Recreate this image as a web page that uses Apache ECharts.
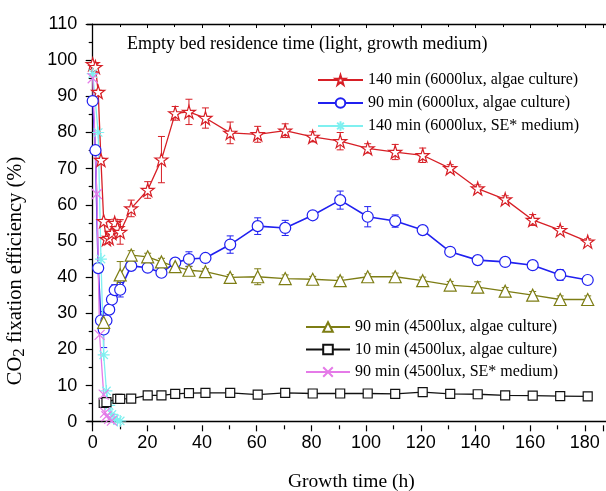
<!DOCTYPE html>
<html>
<head>
<meta charset="utf-8">
<script src="https://cdn.jsdelivr.net/npm/echarts@6/dist/echarts.min.js"></script>
<style>
html, body { margin: 0; padding: 0; background: #fff; }
#main { width: 606px; height: 491px; }
</style>
</head>
<body>
<div id="main"></div>
<script>
// 140 min (6000lux, algae culture)
var redX   = [0, 1, 2, 3, 4, 5, 6, 7, 8, 9, 10, 14, 20, 25, 30, 35, 41, 50, 60, 70, 80, 90, 100, 110, 120, 130, 140, 150, 160, 170, 180];
var redY   = [98.9, 98.1, 91.2, 72.4, 55.5, 50.5, 50.8, 52.2, 55, 53.5, 52.5, 59, 64.1, 72.5, 85.3, 85.7, 84, 79.9, 79.5, 80.5, 78.8, 77.6, 75.6, 74.6, 73.7, 70.1, 64.5, 61.5, 55.8, 53, 49.8];
var redErr = [0.5, 0.5, 0.5, 0.5, 0.5, 0.5, 0.5, 1, 1, 1, 3.4, 2.3, 2.3, 6.4, 1.9, 3.5, 2.8, 3, 2.2, 1.9, 1.4, 2.4, 1.3, 2.1, 2, 1, 1, 1, 1.5, 1, 0.8];

// 90 min (6000lux, algae culture)
var blueX   = [0, 1, 2, 3, 4, 5, 6, 7, 8, 10, 14, 20, 25, 30, 35, 41, 50, 60, 70, 80, 90, 100, 110, 120, 130, 140, 150, 160, 170, 180];
var blueY   = [88.7, 75.1, 42.5, 28, 25.5, 28, 31, 33.8, 36.4, 36.5, 43.1, 42.6, 41.2, 44, 45, 45.3, 49, 54.1, 53.6, 57.1, 61.3, 56.7, 55.5, 53, 47, 44.7, 44.2, 43.3, 40.6, 39.2];
var blueErr = [0.5, 0.5, 0.5, 1, 5, 1, 1, 1, 1.5, 2, 1, 1, 1, 1, 2, 1, 2.4, 2.3, 2.1, 1, 2.5, 2.8, 1.7, 0.8, 0.8, 0.8, 0.5, 0.8, 1.5, 0.8];

// 140 min (6000lux, SE* medium)
var cyanX = [0, 2, 3, 4, 5, 6, 7, 8, 9, 10];
var cyanY = [96.3, 80, 45, 18.5, 8.5, 4.5, 2, 0.8, 0.3, 0.2];

// 90 min (4500lux, algae culture)
var oliveX   = [4, 10, 14, 20, 25, 30, 35, 41, 50, 60, 70, 80, 90, 100, 110, 120, 130, 140, 150, 160, 170, 180];
var oliveY   = [27.5, 40.6, 46.1, 45.6, 44.2, 42.9, 41.9, 41.5, 39.9, 40.1, 39.6, 39.4, 39, 40.1, 40.1, 39, 37.8, 37.2, 36.1, 35, 33.8, 33.8];
var oliveErr = [1.5, 3.7, 1.2, 1, 1, 1, 1, 0.8, 0.8, 2.2, 1, 0.8, 1, 0.8, 1, 1, 1, 1.5, 1, 1, 1, 1];

// 10 min (4500lux, algae culture)
var blackX   = [4, 5, 9, 10, 14, 20, 25, 30, 35, 41, 50, 60, 70, 80, 90, 100, 110, 120, 130, 140, 150, 160, 170, 180];
var blackY   = [5.2, 5.4, 6.3, 6.3, 6.4, 7.3, 7.3, 7.7, 7.9, 8, 8, 7.5, 8, 7.8, 7.8, 7.8, 7.7, 8.2, 7.7, 7.6, 7.3, 7.2, 7.1, 7];
var blackErr = [0.6, 0.6, 0.6, 0.6, 0.6, 0.6, 0.6, 0.6, 0.6, 0.6, 0.6, 0.6, 0.6, 0.6, 0.6, 0.6, 0.6, 0.6, 0.6, 0.6, 0.6, 0.6, 0.6, 0.6];

// 90 min (4500lux, SE* medium)
var pinkX = [0, 1.5, 2.5, 4, 4.5, 5, 6, 7];
var pinkY = [95, 63, 24, 7.5, 2.5, 1.5, 0.8, 0.3];

var seriesNames = [
  '140 min (6000lux, algae culture)',
  '90 min (6000lux, algae culture)',
  '140 min (6000lux, SE* medium)',
  '90 min (4500lux, algae culture)',
  '10 min (4500lux, algae culture)',
  '90 min (4500lux, SE* medium)'
];

// pixel layout of the plot
var X0PX = 92.7, XS = 2.75;   // x = 0 position, px per hour
var Y0PX = 421.7, YS = 3.615; // y = 0 position, px per %
var W = 606, H = 491;
var XMIN = -2, YMIN = -1, YMAX = 110;
var XMAX = XMIN + (W - (X0PX + XMIN * XS)) / XS;

var STAR = 'path://M50,2 L61,36 L97,36 L68,57 L79,92 L50,71 L21,92 L32,57 L3,36 L39,36 Z';
var ASTER = 'path://M0,50 L100,50 M50,0 L50,100 M15,15 L85,85 M85,15 L15,85';
var CROSS = 'path://M0,0 L100,100 M100,0 L0,100';

function zip(xs, ys) {
  var out = [];
  for (var i = 0; i < xs.length; i++) out.push([xs[i], ys[i]]);
  return out;
}

function lineSeries(name, xs, ys, color, symbol, size, lw) {
  return {
    name: name, type: 'line', xAxisIndex: 0, yAxisIndex: 0,
    data: zip(xs, ys), symbol: symbol, symbolSize: size,
    lineStyle: { color: color, width: lw || 1.3 },
    itemStyle: { color: '#fff', borderColor: color, borderWidth: 1.2 },
    z: 3, animation: false
  };
}

function errorSeries(xs, ys, errs, color) {
  var d = [];
  for (var i = 0; i < xs.length; i++) d.push([xs[i], ys[i], errs[i]]);
  return {
    type: 'custom', xAxisIndex: 0, yAxisIndex: 0, silent: true, z: 2,
    encode: { x: 0, y: 1 },
    renderItem: function (params, api) {
      var x = api.value(0), y = api.value(1), e = api.value(2);
      var t = api.coord([x, y + e]), b = api.coord([x, y - e]);
      var hw = 3.5, st = { stroke: color, lineWidth: 1 };
      return { type: 'group', children: [
        { type: 'line', shape: { x1: t[0], y1: t[1], x2: b[0], y2: b[1] }, style: st },
        { type: 'line', shape: { x1: t[0] - hw, y1: t[1], x2: t[0] + hw, y2: t[1] }, style: st },
        { type: 'line', shape: { x1: b[0] - hw, y1: b[1], x2: b[0] + hw, y2: b[1] }, style: st }
      ] };
    },
    data: d, animation: false
  };
}

var RED = '#d71f26', BLUE = '#2020f0', CYAN = '#7ff0f0', OLIVE = '#7d7d14', BLACK = '#111', PINK = '#e57ae8';

var chart = echarts.init(document.getElementById('main'));
var sans = 'Liberation Sans', serif = 'Liberation Serif';

var option = {
  animation: false,
  backgroundColor: '#fff',
  grid: [
    { left: X0PX + XMIN * XS, right: 0, top: Y0PX - YMAX * YS, bottom: H - (Y0PX - YMIN * YS) },
    { left: X0PX, right: 0, top: Y0PX - YMAX * YS, bottom: H - (Y0PX - YMIN * YS) },
    { left: X0PX + XMIN * XS, right: 0, top: Y0PX - YMAX * YS, bottom: H - Y0PX }
  ],
  xAxis: [
    { gridIndex: 0, type: 'value', min: XMIN, max: XMAX, position: 'bottom',
      axisLine: { lineStyle: { color: '#000', width: 1.3 } }, axisTick: { show: false },
      axisLabel: { show: false }, splitLine: { show: false } },
    { gridIndex: 0, type: 'value', min: XMIN, max: XMAX, position: 'top',
      axisLine: { lineStyle: { color: '#000', width: 1.3 } }, axisTick: { show: false },
      axisLabel: { show: false }, splitLine: { show: false } },
    { gridIndex: 1, type: 'value', min: 0, max: XMAX, interval: 20, position: 'bottom',
      axisLine: { show: false },
      axisTick: { show: true, length: 6, lineStyle: { color: '#000', width: 1.2 } },
      minorTick: { show: true, splitNumber: 2, length: 4, lineStyle: { color: '#000', width: 1.2 } },
      axisLabel: { fontFamily: sans, fontSize: 18, color: '#000', margin: 9,
        formatter: function (v) { return v <= 180 ? v : ''; } },
      splitLine: { show: false } },
    { gridIndex: 1, type: 'value', min: 0, max: XMAX, interval: 20, position: 'top',
      axisLine: { show: false },
      axisTick: { show: true, inside: true, length: 4, lineStyle: { color: '#000' } },
      minorTick: { show: true, splitNumber: 2, length: 3, lineStyle: { color: '#000' } },
      axisLabel: { show: false }, splitLine: { show: false } },
    { gridIndex: 2, type: 'value', min: XMIN, max: XMAX, show: false }
  ],
  yAxis: [
    { gridIndex: 0, type: 'value', min: YMIN, max: YMAX,
      axisLine: { show: true, lineStyle: { color: '#000', width: 1.3 } }, axisTick: { show: false },
      axisLabel: { show: false }, splitLine: { show: false } },
    { gridIndex: 1, type: 'value', min: 0, max: 1, show: false },
    { gridIndex: 2, type: 'value', min: 0, max: YMAX, interval: 10,
      axisLine: { show: false },
      axisTick: { show: true, length: 7, lineStyle: { color: '#000', width: 1.2 } },
      minorTick: { show: true, splitNumber: 2, length: 4, lineStyle: { color: '#000', width: 1.2 } },
      axisLabel: { fontFamily: sans, fontSize: 18, color: '#000', margin: 10 },
      splitLine: { show: false } }
  ],
  legend: [
    { data: seriesNames.slice(0, 3), orient: 'vertical', left: 312, top: 67,
      itemWidth: 45, itemHeight: 12, itemGap: 7, itemStyle: { color: '#fff' },
      textStyle: { fontFamily: serif, fontSize: 16, color: '#000' }, selectedMode: false },
    { data: seriesNames.slice(3), orient: 'vertical', left: 300, top: 314,
      itemWidth: 44, itemHeight: 12, itemGap: 6.5, itemStyle: { color: '#fff' },
      textStyle: { fontFamily: serif, fontSize: 16, color: '#000' }, selectedMode: false }
  ],
  graphic: [
    { type: 'text', left: 127, top: 35,
      style: { text: 'Empty bed residence time (light, growth medium)', font: '18px "Liberation Serif"', fill: '#000' } },
    { type: 'text', x: 16, y: 271, rotation: Math.PI / 2, originX: 0, originY: 0,
      style: {
        text: '{a|CO}{s|2}{a| fixation efficiency (%)}',
        align: 'center', verticalAlign: 'middle',
        rich: {
          a: { fontFamily: serif, fontSize: 20.5, lineHeight: 24, fill: '#000' },
          s: { fontFamily: serif, fontSize: 17, lineHeight: 8, verticalAlign: 'bottom', fill: '#000' }
        }
      } },
    { type: 'text', left: 288, top: 472,
      style: { text: 'Growth time (h)', font: '19.5px "Liberation Serif"', fill: '#000' } }
  ],
  series: [
    errorSeries(redX, redY, redErr, RED),
    errorSeries(blueX, blueY, blueErr, BLUE),
    errorSeries(oliveX, oliveY, oliveErr, OLIVE),
    errorSeries(blackX, blackY, blackErr, BLACK),
    lineSeries(seriesNames[0], redX, redY, RED, STAR, 13),
    lineSeries(seriesNames[1], blueX, blueY, BLUE, 'circle', 11, 1.6),
    lineSeries(seriesNames[2], cyanX, cyanY, CYAN, ASTER, 12),
    lineSeries(seriesNames[3], oliveX, oliveY, OLIVE, 'triangle', 12),
    lineSeries(seriesNames[4], blackX, blackY, BLACK, 'rect', 9),
    lineSeries(seriesNames[5], pinkX, pinkY, PINK, CROSS, 10)
  ]
};
chart.setOption(option);
</script>
</body>
</html>
